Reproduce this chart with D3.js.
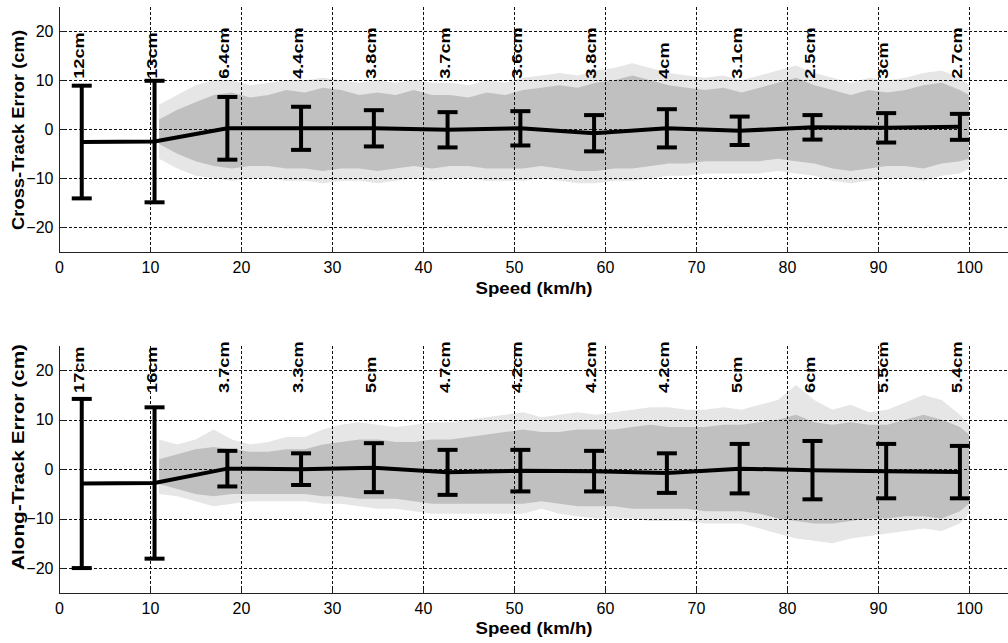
<!DOCTYPE html>
<html>
<head>
<meta charset="utf-8">
<script src="https://cdn.jsdelivr.net/npm/d3@7"></script>
<style>
  html, body { margin: 0; padding: 0; background: #fff; }
  svg { display: block; }
  text { font-family: "Liberation Sans", Arial, Helvetica, sans-serif; fill: #000; }
</style>
</head>
<body>
<svg id="chart" width="1008" height="643"></svg>
<script>
// ---------------- data ----------------
const binSpeeds = [2.5, 10.5, 18.5, 26.6, 34.6, 42.7, 50.7, 58.8, 66.8, 74.8, 82.8, 90.9, 99.0];

const crossMean = [-2.6, -2.5, 0.2, 0.2, 0.2, -0.1, 0.2, -0.8, 0.2, -0.3, 0.4, 0.3, 0.5];
const crossStd  = [11.5, 12.4, 6.4, 4.4, 3.7, 3.6, 3.5, 3.7, 3.9, 2.9, 2.5, 3.0, 2.65];
const crossLabels = ["12cm", "13cm", "6.4cm", "4.4cm", "3.8cm", "3.7cm", "3.6cm", "3.8cm", "4cm", "3.1cm", "2.5cm", "3cm", "2.7cm"];

const alongMean = [-2.9, -2.8, 0.1, 0.0, 0.3, -0.65, -0.3, -0.4, -0.8, 0.1, -0.2, -0.4, -0.6];
const alongStd  = [17.1, 15.3, 3.6, 3.2, 4.95, 4.55, 4.2, 4.1, 4.0, 5.0, 5.9, 5.5, 5.3];
const alongLabels = ["17cm", "16cm", "3.7cm", "3.3cm", "5cm", "4.7cm", "4.2cm", "4.2cm", "4.2cm", "5cm", "6cm", "5.5cm", "5.4cm"];

// envelope of the raw error samples (grey cloud)
const cloudSpeed = [11, 13, 15, 17, 19, 21, 23, 25, 27, 29, 31, 33, 35, 37, 39, 41, 43, 45, 47, 49, 51, 53, 55, 57, 59, 61, 63, 65, 67, 69, 71, 73, 75, 77, 79, 81, 83, 85, 87, 89, 91, 93, 95, 97, 99, 100];

const crossCoreHi = [2, 4, 5.5, 7, 7.5, 6.5, 7, 8, 7.5, 8.5, 8, 7, 7.5, 7, 8, 7, 7, 6.5, 7.5, 7, 8, 8.5, 9, 8.5, 9.5, 10, 11, 10, 9, 8.5, 8, 8.5, 7.5, 8.5, 9.5, 10.5, 9, 8, 7, 8, 7.5, 8, 9, 9.5, 8, 7];
const crossCoreLo = [-3, -5, -6.5, -7.5, -8, -7.5, -7.5, -8, -8, -8.5, -8, -8, -8.5, -8, -7.5, -8, -7.5, -7.5, -8, -8, -8, -7.5, -8, -8.5, -8.5, -8, -8, -7.5, -7, -7, -6.5, -6.5, -6.5, -6.5, -6, -6.5, -7, -8, -8.5, -8, -7.5, -7.5, -8, -7, -6.5, -6];
const crossHaloHi = [5, 7, 9, 10, 10, 9, 9.5, 10, 10, 10.5, 10, 9.5, 10, 9.5, 10, 9.5, 9.5, 9, 10, 9.5, 10.5, 11, 11.5, 11, 12, 12.5, 13.5, 12.5, 11.5, 11, 10.5, 11, 10, 11, 12, 13, 11.5, 10.5, 9.5, 10.5, 10, 10.5, 11.5, 12, 10.5, 9];
const crossHaloLo = [-6, -8, -9.5, -10, -10.5, -10, -10, -10.5, -10.5, -11, -10.5, -10.5, -11, -10.5, -10, -10.5, -10, -10, -10.5, -10.5, -10.5, -10, -10.5, -11, -11, -10.5, -10.5, -10, -9.5, -9.5, -9, -9, -9, -9, -8.5, -9, -9.5, -10.5, -11, -10.5, -10, -10, -10.5, -9.5, -9, -8];

const alongCoreHi = [2, 3, 4, 4.5, 4, 3.5, 3.5, 4, 4, 5, 5.5, 6, 6, 5.5, 5.5, 6, 6, 6.5, 7, 7.5, 8, 7.5, 7.5, 8, 8, 8, 8.5, 9, 8.5, 8.5, 8.5, 9, 9, 9.5, 10, 11, 9.5, 9, 9.5, 9, 9, 10, 11, 10, 8.5, 7];
const alongCoreLo = [-3, -4, -5, -5.5, -5, -5, -5, -5, -5, -5.5, -5.5, -6, -6, -6, -6.5, -7, -7, -7, -7, -7, -7, -6.5, -7, -7.5, -7.5, -7.5, -8, -8, -8, -8, -8.5, -8.5, -8.5, -9, -10, -10.5, -11, -11, -10.5, -10, -10, -9.5, -9.5, -10, -8.5, -7];
const alongHaloHi = [6, 5, 6, 8, 6, 5, 5.5, 6.5, 6.5, 8, 9, 9.5, 9, 8.5, 9, 9.5, 9.5, 10, 10.5, 11, 11.5, 10.5, 11, 11.5, 11, 11.5, 12, 12.5, 12.5, 12, 12, 12.5, 12, 13, 14, 17, 14, 12, 13, 11.5, 12, 13.5, 15, 14, 11, 9];
const alongHaloLo = [-5, -5.5, -6.5, -7.5, -7, -6.5, -6.5, -6.5, -6.5, -7, -7, -7.5, -8, -8, -8.5, -9, -9, -9, -9, -9, -9, -8, -9, -9.5, -10, -10, -10, -10.5, -10.5, -10.5, -11, -11, -11, -12, -13, -14, -14.5, -15, -14, -13.5, -13, -12.5, -12, -12.5, -11, -9];

const xTicks = [0, 10, 20, 30, 40, 50, 60, 70, 80, 90, 100];
const yTicks = [-20, -10, 0, 10, 20];
const xTitle = "Speed (km/h)";

// ---------------- layout ----------------
const svg = d3.select("#chart");
const axLeft = 59, axRight = 1008;

const panels = [
  { title: "Cross-Track Error (cm)", mean: crossMean, std: crossStd, labels: crossLabels,
    coreHi: crossCoreHi, coreLo: crossCoreLo, haloHi: crossHaloHi, haloLo: crossHaloLo,
    top: 6.8, bottom: 251.8, labelAt: 10.3, titleLen: 200, titleY: 130, xTitleY: 294 },
  { title: "Along-Track Error (cm)", mean: alongMean, std: alongStd, labels: alongLabels,
    coreHi: alongCoreHi, coreLo: alongCoreLo, haloHi: alongHaloHi, haloLo: alongHaloLo,
    top: 345.5, bottom: 592.8, labelAt: 15.4, titleLen: 226, titleY: 457, xTitleY: 634 }
];

const x = d3.scaleLinear().domain([0, 100]).range([axLeft, 969]);

panels.forEach(p => {
  const y = d3.scaleLinear().domain([-25, 25]).range([p.bottom, p.top]);
  const g = svg.append("g");

  // grey cloud (sparse halo + dense core)
  const idx = d3.range(cloudSpeed.length);
  const area = (hi, lo) => d3.area()
    .x(i => x(cloudSpeed[i]))
    .y0(i => y(lo[i]))
    .y1(i => y(hi[i]))
    .curve(d3.curveLinear)(idx);
  g.append("path").attr("d", area(p.haloHi, p.haloLo)).attr("fill", "#e6e6e6");
  g.append("path").attr("d", area(p.coreHi, p.coreLo)).attr("fill", "#c0c0c0");

  // grid
  const grid = g.append("g").attr("stroke", "#111").attr("stroke-width", 1)
    .attr("stroke-dasharray", "3,2").attr("shape-rendering", "crispEdges");
  grid.selectAll("line.h").data(yTicks).join("line").attr("class", "h")
    .attr("x1", axLeft).attr("x2", axRight)
    .attr("y1", d => Math.round(y(d)) + 0.5).attr("y2", d => Math.round(y(d)) + 0.5);
  grid.selectAll("line.v").data(xTicks.filter(d => d > 0)).join("line").attr("class", "v")
    .attr("x1", d => Math.round(x(d)) + 0.5).attr("x2", d => Math.round(x(d)) + 0.5)
    .attr("y1", p.top).attr("y2", p.bottom);

  // axes
  const xAxis = d3.axisBottom(x).tickValues(xTicks).tickSizeInner(-5).tickSizeOuter(0).tickPadding(9);
  const gx = g.append("g").attr("transform", `translate(0,${Math.round(p.bottom) + 0.5})`).call(xAxis);
  gx.select(".domain").attr("d", `M${axLeft},0H${axRight}`);
  const yAxis = d3.axisLeft(y).tickValues(yTicks).tickSizeInner(-5).tickSizeOuter(0).tickPadding(6);
  const gy = g.append("g").attr("transform", `translate(${axLeft + 0.5},0)`).call(yAxis);
  gy.select(".domain").attr("d", `M0,${p.top}V${p.bottom}`);
  [gx, gy].forEach(a => {
    a.selectAll("path, line").attr("stroke", "#222").attr("stroke-width", 1).attr("shape-rendering", "crispEdges");
    a.selectAll("text").attr("font-size", 16).attr("font-family", "Liberation Sans, Arial, sans-serif").attr("fill", "#000");
  });

  // mean line
  g.append("path")
    .attr("d", d3.line().x((d, i) => x(binSpeeds[i])).y(d => y(d))(p.mean))
    .attr("fill", "none").attr("stroke", "#000").attr("stroke-width", 4);

  // error bars
  const eb = g.append("g").attr("stroke", "#000").attr("stroke-width", 4).attr("fill", "none");
  p.mean.forEach((m, i) => {
    const cx = x(binSpeeds[i]);
    const yt = y(m + p.std[i]), yb = y(m - p.std[i]);
    eb.append("line").attr("x1", cx).attr("x2", cx).attr("y1", yt).attr("y2", yb);
    eb.append("line").attr("x1", cx - 10).attr("x2", cx + 10).attr("y1", yt).attr("y2", yt);
    eb.append("line").attr("x1", cx - 10).attr("x2", cx + 10).attr("y1", yb).attr("y2", yb);
  });

  // std labels (rotated)
  p.labels.forEach((t, i) => {
    g.append("text")
      .attr("transform", `translate(${x(binSpeeds[i]) - 3},${y(p.labelAt)}) rotate(-90) scale(1.3,1)`)
      .attr("dy", "0.36em")
      .attr("font-size", 14).attr("font-weight", "bold")
      .attr("text-anchor", "start")
      .text(t);
  });

  // axis titles
  g.append("text")
    .attr("transform", `translate(18.5,${p.titleY}) rotate(-90)`)
    .attr("dy", "0.35em").attr("text-anchor", "middle")
    .attr("font-size", 17).attr("font-weight", "bold")
    .attr("textLength", p.titleLen).attr("lengthAdjust", "spacingAndGlyphs")
    .text(p.title);
  g.append("text")
    .attr("x", 534).attr("y", p.xTitleY).attr("text-anchor", "middle")
    .attr("font-size", 16).attr("font-weight", "bold")
    .attr("textLength", 117).attr("lengthAdjust", "spacingAndGlyphs")
    .text(xTitle);
});
</script>
</body>
</html>
